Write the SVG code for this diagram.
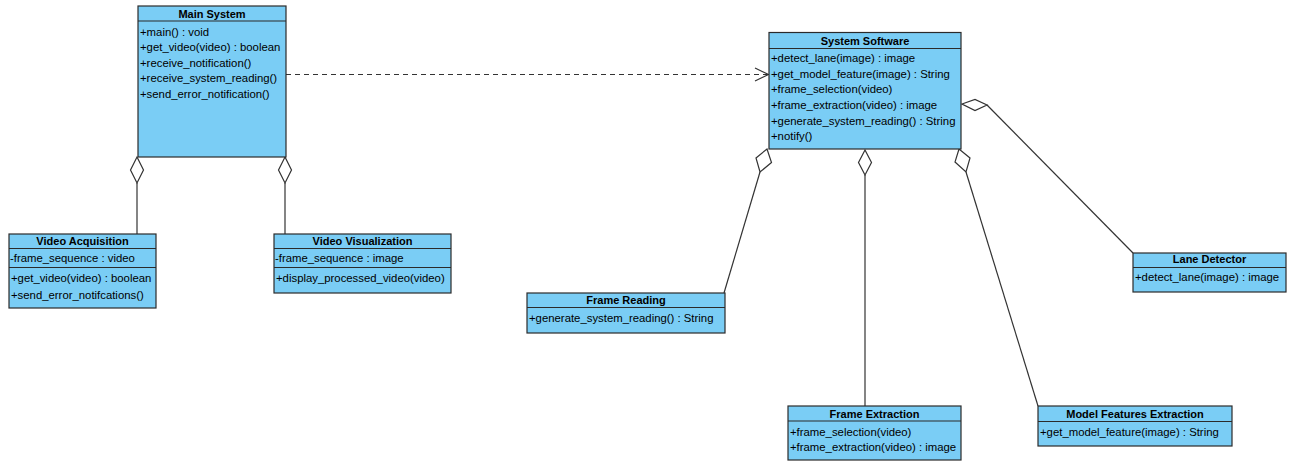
<svg xmlns="http://www.w3.org/2000/svg" width="1303" height="461" viewBox="0 0 1303 461">
<style>
.box{fill:#7ACDF5;stroke:#2b2b2b;stroke-width:1.2}
.sep{stroke:#2b2b2b;stroke-width:1.2}
.t{font-family:"Liberation Sans",Arial,sans-serif;font-size:11px;font-weight:bold;fill:#000;text-anchor:middle}
.m{font-family:"Liberation Sans",Arial,sans-serif;font-size:11.35px;fill:#000}
.ln{stroke:#333;stroke-width:1.2;fill:none}
.dia{stroke:#333;stroke-width:1.2;fill:#fff}
</style>
<rect width="1303" height="461" fill="#fff"/>
<g id="connectors">
<line class="ln" x1="286" y1="74.5" x2="768" y2="74.5" stroke-dasharray="5,4"/>
<polyline class="ln" points="755,68 768.5,74.5 755,81"/>
<line class="ln" x1="137" y1="183" x2="137" y2="234"/>
<polygon class="dia" points="137,157 143.5,170 137,183 130.5,170"/>
<line class="ln" x1="285" y1="183" x2="285" y2="234"/>
<polygon class="dia" points="285,157 291.5,170 285,183 278.5,170"/>
<line class="ln" x1="760" y1="172" x2="724" y2="293"/>
<polygon class="dia" points="767,149 771.5,162.5 760,172 756,158"/>
<line class="ln" x1="865" y1="175" x2="865" y2="406"/>
<polygon class="dia" points="865,150 871.5,162.5 865,175 858.5,162.5"/>
<line class="ln" x1="966" y1="172" x2="1038" y2="406"/>
<polygon class="dia" points="959,149 970,158 966,172 955,162"/>
<line class="ln" x1="987" y1="105" x2="1133" y2="253"/>
<polygon class="dia" points="962,104 975,99.5 987,105 975,110.5"/>
</g>
<g id="main-system">
<rect class="box" x="138" y="6" width="148" height="151"/>
<line class="sep" x1="138" y1="21" x2="286" y2="21"/>
<text class="t" x="212" y="18">Main System</text>
<text class="m" x="140" y="35.5">+main() : void</text>
<text class="m" x="140" y="51">+get_video(video) : boolean</text>
<text class="m" x="140" y="66.5">+receive_notification()</text>
<text class="m" x="140" y="82">+receive_system_reading()</text>
<text class="m" x="140" y="97.5">+send_error_notification()</text>
</g>
<g id="system-software">
<rect class="box" x="769" y="32.5" width="192" height="116.5"/>
<line class="sep" x1="769" y1="48.5" x2="961" y2="48.5"/>
<text class="t" x="865" y="45">System Software</text>
<text class="m" x="771" y="62">+detect_lane(image) : image</text>
<text class="m" x="771" y="78">+get_model_feature(image) : String</text>
<text class="m" x="771" y="93">+frame_selection(video)</text>
<text class="m" x="771" y="109">+frame_extraction(video) : image</text>
<text class="m" x="771" y="124.5">+generate_system_reading() : String</text>
<text class="m" x="771" y="140">+notify()</text>
</g>
<g id="video-acquisition">
<rect class="box" x="9" y="234" width="147" height="74"/>
<line class="sep" x1="9" y1="248.5" x2="156" y2="248.5"/>
<line class="sep" x1="9" y1="267.5" x2="156" y2="267.5"/>
<text class="t" x="82.5" y="245">Video Acquisition</text>
<text class="m" x="10" y="262">-frame_sequence : video</text>
<text class="m" x="11" y="282">+get_video(video) : boolean</text>
<text class="m" x="11" y="298.5">+send_error_notifcations()</text>
</g>
<g id="video-visualization">
<rect class="box" x="274" y="234" width="177" height="59"/>
<line class="sep" x1="274" y1="248.5" x2="451" y2="248.5"/>
<line class="sep" x1="274" y1="267.5" x2="451" y2="267.5"/>
<text class="t" x="362.5" y="245">Video Visualization</text>
<text class="m" x="275" y="262">-frame_sequence : image</text>
<text class="m" x="276" y="282">+display_processed_video(video)</text>
</g>
<g id="frame-reading">
<rect class="box" x="527" y="293" width="198" height="40"/>
<line class="sep" x1="527" y1="307.5" x2="725" y2="307.5"/>
<text class="t" x="626" y="304">Frame Reading</text>
<text class="m" x="529" y="322">+generate_system_reading() : String</text>
</g>
<g id="lane-detector">
<rect class="box" x="1133" y="253" width="153" height="39"/>
<line class="sep" x1="1133" y1="267.5" x2="1286" y2="267.5"/>
<text class="t" x="1209.5" y="263">Lane Detector</text>
<text class="m" x="1135" y="281">+detect_lane(image) : image</text>
</g>
<g id="frame-extraction">
<rect class="box" x="788" y="406" width="173" height="54"/>
<line class="sep" x1="788" y1="421" x2="961" y2="421"/>
<text class="t" x="874.5" y="418">Frame Extraction</text>
<text class="m" x="790" y="435.5">+frame_selection(video)</text>
<text class="m" x="790" y="451">+frame_extraction(video) : image</text>
</g>
<g id="model-features-extraction">
<rect class="box" x="1038" y="406" width="194" height="40"/>
<line class="sep" x1="1038" y1="421.5" x2="1232" y2="421.5"/>
<text class="t" x="1135" y="418">Model Features Extraction</text>
<text class="m" x="1040" y="436">+get_model_feature(image) : String</text>
</g>
</svg>
